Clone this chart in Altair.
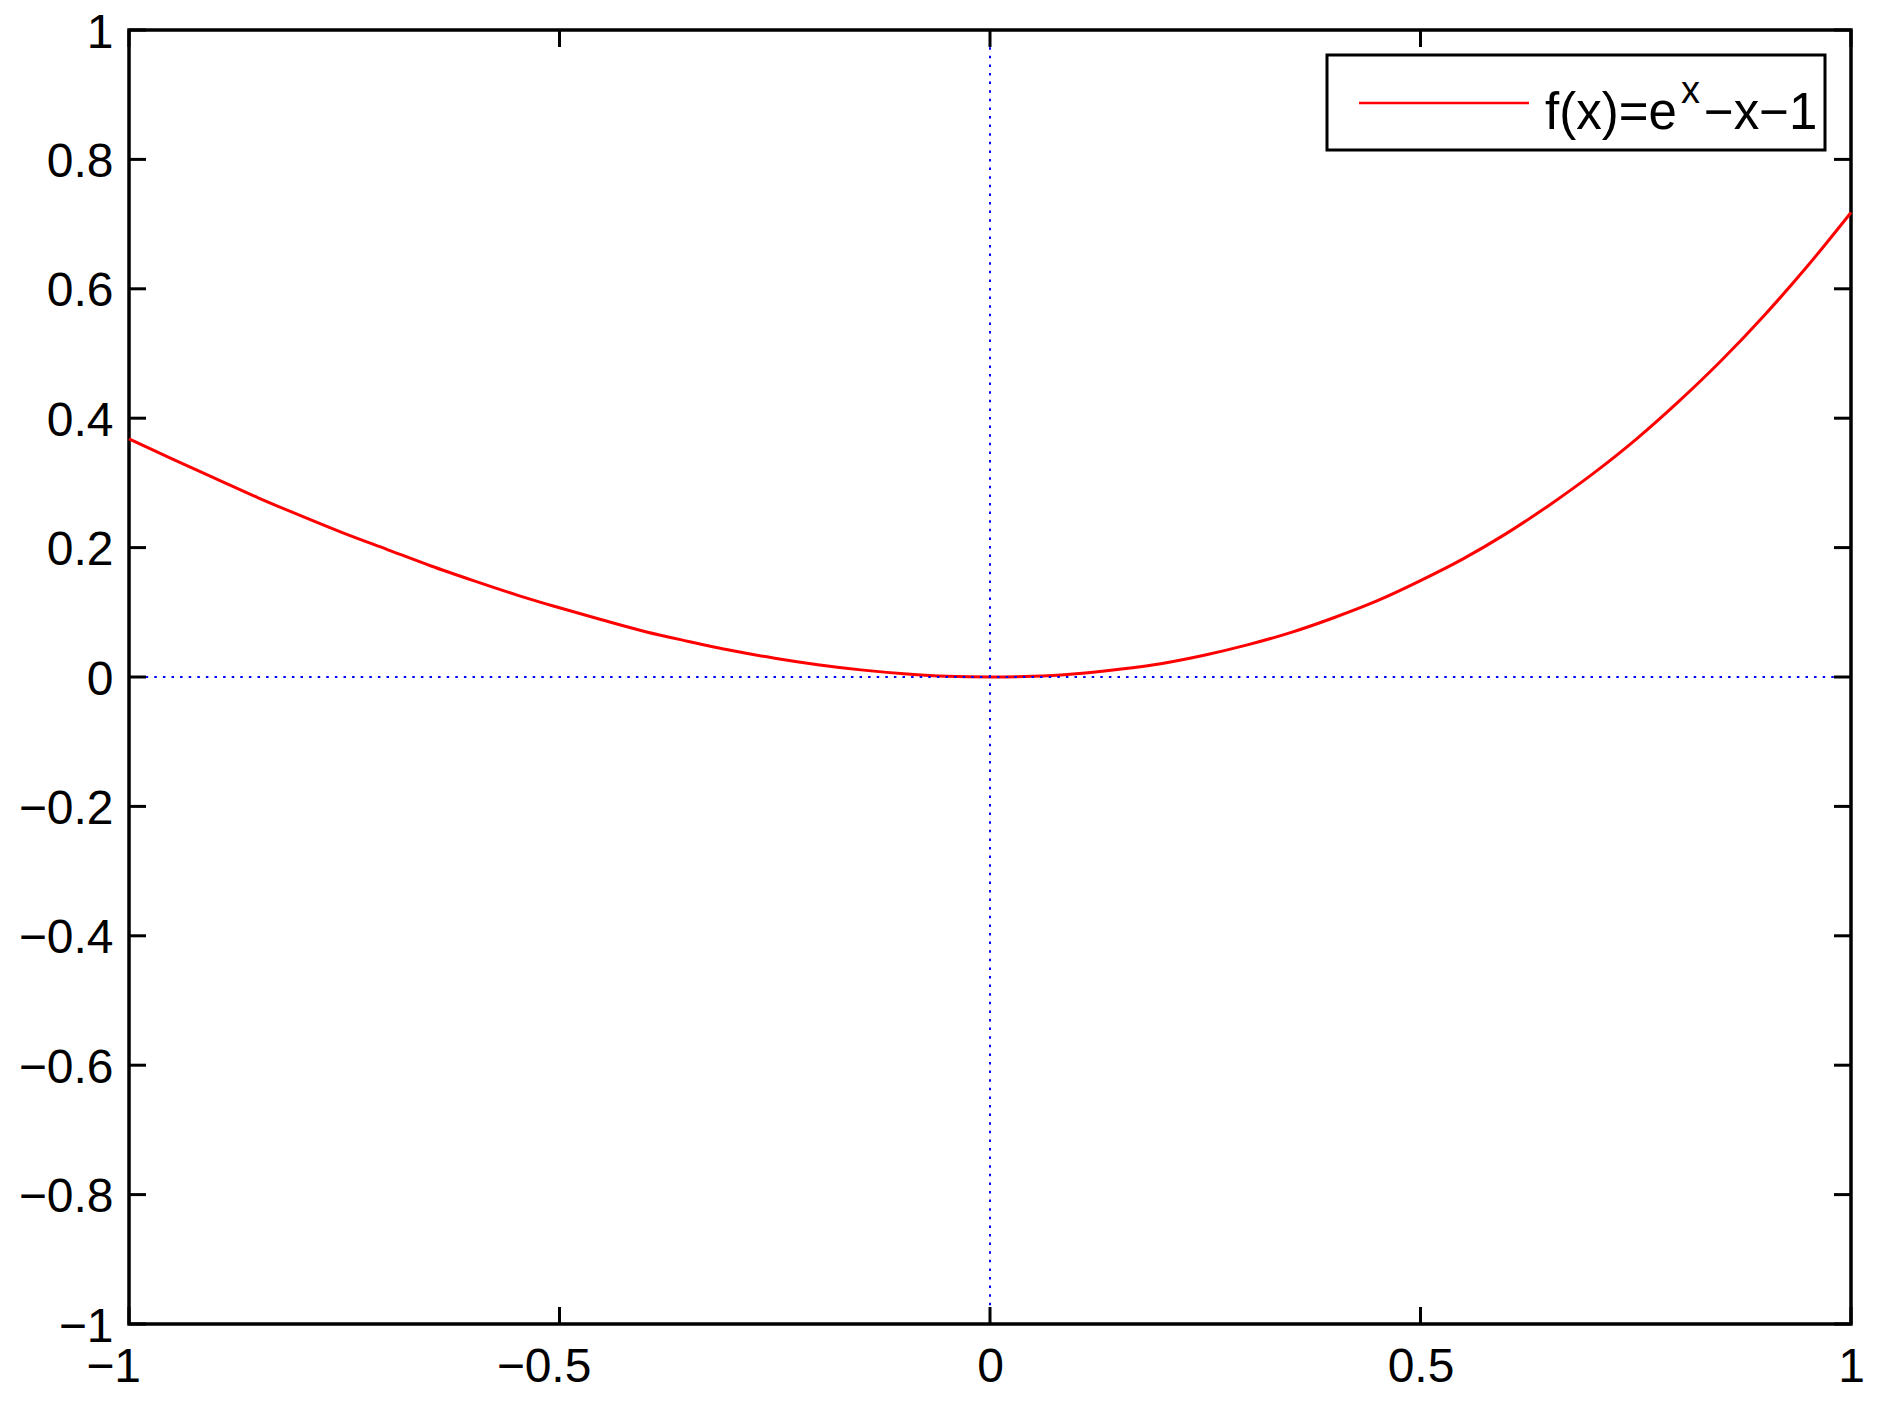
import altair as alt
import pandas as pd

# ---- data ----
X_VALUES = [-1.0, -0.95, -0.9, -0.85, -0.8, -0.75, -0.7, -0.65, -0.6, -0.55, -0.5,
            -0.45, -0.4, -0.35, -0.3, -0.25, -0.2, -0.15, -0.1, -0.05, 0.0,
            0.05, 0.1, 0.15, 0.2, 0.25, 0.3, 0.35, 0.4, 0.45, 0.5,
            0.55, 0.6, 0.65, 0.7, 0.75, 0.8, 0.85, 0.9, 0.95, 1.0]
Y_VALUES = [0.368, 0.337, 0.307, 0.277, 0.249, 0.222, 0.197, 0.172, 0.149, 0.127, 0.107,
            0.088, 0.070, 0.055, 0.041, 0.029, 0.019, 0.011, 0.005, 0.001, 0.0,
            0.001, 0.005, 0.012, 0.021, 0.034, 0.050, 0.069, 0.092, 0.118, 0.149,
            0.183, 0.222, 0.266, 0.314, 0.367, 0.426, 0.490, 0.560, 0.636, 0.718]
X_TICKS = [-1, -0.5, 0, 0.5, 1]
Y_TICKS = [-1, -0.8, -0.6, -0.4, -0.2, 0, 0.2, 0.4, 0.6, 0.8, 1]
LEGEND_PARTS = ["f(x)=e", "x", "\u2212x\u22121"]
SERIES_NAME = "f(x)=e^x-x-1"

W, H = 1722, 1294
FONT = "Liberation Sans"
TICK = 17
LABEL_SIZE = 48

curve_df = pd.DataFrame({"x": X_VALUES, "y": Y_VALUES, "s": SERIES_NAME})
xt_df = pd.DataFrame({"v": X_TICKS})
yt_df = pd.DataFrame({"v": Y_TICKS})
one = pd.DataFrame({"a": [0]})

xscale = alt.Scale(domain=[-1, 1], nice=False, zero=False)
yscale = alt.Scale(domain=[-1, 1], nice=False, zero=False)

xaxis = alt.Axis(values=X_TICKS, format="~g", title=None, ticks=False, domain=False,
                 grid=False, labelFontSize=LABEL_SIZE, labelFont=FONT, labelColor="black",
                 labelPadding=19, labelFlush=False, labelOverlap=False,
                 labelOffset={"condition": {"test": "datum.value < 0", "value": -16}, "value": 0})
yaxis = alt.Axis(values=Y_TICKS, format="~g", title=None, ticks=False, domain=False,
                 grid=False, labelFontSize=LABEL_SIZE, labelFont=FONT, labelColor="black",
                 labelPadding=16, labelFlush=False, labelOverlap=False, labelOffset=3)

curve = alt.Chart(curve_df).mark_line(color="#ff0000", strokeWidth=3, interpolate="monotone").encode(
    x=alt.X("x:Q", scale=xscale, axis=xaxis),
    y=alt.Y("y:Q", scale=yscale, axis=yaxis),
)

dot_style = dict(color="#0000ff", strokeWidth=2, strokeDash=[2.5, 6.1])
vline = alt.Chart(one).mark_rule(**dot_style).encode(x=alt.datum(0))
hline = alt.Chart(one).mark_rule(**dot_style).encode(y=alt.datum(0))

tick_style = dict(color="black", strokeWidth=3)
xt_bottom = alt.Chart(xt_df).mark_rule(**tick_style).encode(
    x=alt.X("v:Q"), y=alt.value(H), y2=alt.value(H - TICK))
xt_top = alt.Chart(xt_df).mark_rule(**tick_style).encode(
    x=alt.X("v:Q"), y=alt.value(0), y2=alt.value(TICK))
yt_left = alt.Chart(yt_df).mark_rule(**tick_style).encode(
    y=alt.Y("v:Q"), x=alt.value(0), x2=alt.value(TICK))
yt_right = alt.Chart(yt_df).mark_rule(**tick_style).encode(
    y=alt.Y("v:Q"), x=alt.value(W - TICK), x2=alt.value(W))

# legend box (drawn by hand so the exponent can be raised)
leg_box = alt.Chart(one).mark_rect(fill="white", stroke="black", strokeWidth=3).encode(
    x=alt.value(1198), x2=alt.value(1696), y=alt.value(25), y2=alt.value(120))
leg_line = alt.Chart(one).mark_rule(color="#ff0000", strokeWidth=2.7).encode(
    x=alt.value(1230), x2=alt.value(1400), y=alt.value(73))
leg_t1 = alt.Chart(pd.DataFrame({"t": [LEGEND_PARTS[0]]})).mark_text(
    align="left", baseline="alphabetic", font=FONT, fontSize=51, color="black").encode(
    text="t:N", x=alt.value(1416), y=alt.value(99))
leg_t2 = alt.Chart(pd.DataFrame({"t": [LEGEND_PARTS[1]]})).mark_text(
    align="left", baseline="alphabetic", font=FONT, fontSize=38, color="black").encode(
    text="t:N", x=alt.value(1552), y=alt.value(73))
leg_t3 = alt.Chart(pd.DataFrame({"t": [LEGEND_PARTS[2]]})).mark_text(
    align="left", baseline="alphabetic", font=FONT, fontSize=51, color="black").encode(
    text="t:N", x=alt.value(1575), y=alt.value(99))

chart = alt.layer(
    curve, vline, hline, xt_bottom, xt_top, yt_left, yt_right,
    leg_box, leg_line, leg_t1, leg_t2, leg_t3,
).properties(
    width=W, height=H,
    autosize=alt.AutoSizeParams(type="none"),
    padding={"left": 121, "top": 22, "right": 20, "bottom": 70},
    background="white",
).configure_view(stroke="black", strokeWidth=3.5)

chart.save("out.html", embed_options={"renderer": "svg", "actions": False})
